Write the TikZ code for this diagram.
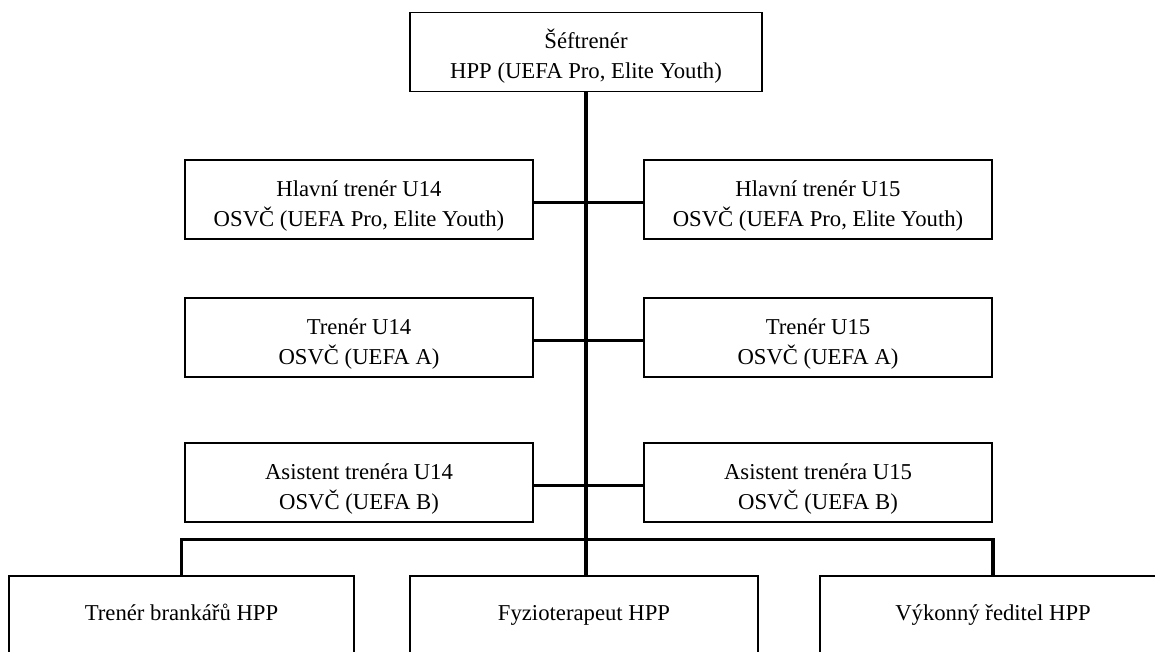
\documentclass[tikz,border=0pt]{standalone}
\usepackage{fontspec}
\setmainfont{Liberation Serif}

\begin{document}
\begin{tikzpicture}[x=1pt, y=-1pt, font=\fontsize{22.7}{30}\selectfont,
    unit/.style={draw, line width=1.2pt, minimum width=348pt, minimum height=79pt, align=center, inner sep=0pt,
        execute at begin node=\rule{0pt}{58pt}},
    staff/.style={unit, execute at begin node={}, text height=16pt, text depth=7pt},
    link/.style={line width=3.2pt}]
        \clip (0,0) rectangle (1155,652);
        \node[unit, minimum width=352pt] (chief) at (586,52) {Šéftrenér\\HPP (UEFA Pro, Elite Youth)};
        \node[unit] (head14) at (359,199.5) {Hlavní trenér U14\\OSVČ (UEFA Pro, Elite Youth)};
        \node[unit] (head15) at (818,199.5) {Hlavní trenér U15\\OSVČ (UEFA Pro, Elite Youth)};
        \node[unit] (coach14) at (359,337.5) {Trenér U14\\OSVČ (UEFA A)};
        \node[unit] (coach15) at (818,337.5) {Trenér U15\\OSVČ (UEFA A)};
        \node[unit] (asst14) at (359,482.5) {Asistent trenéra U14\\OSVČ (UEFA B)};
        \node[unit] (asst15) at (818,482.5) {Asistent trenéra U15\\OSVČ (UEFA B)};
        \node[staff, minimum width=345pt] (keeper) at (181.5,615.5) {Trenér brankářů HPP};
        \node[staff] (physio) at (584,615.5) {Fyzioterapeut HPP};
        \node[staff, minimum width=346pt] (director) at (993,615.5) {Výkonný ředitel HPP};
        % trunk, side branches and bottom bus
        \draw[link] (chief.south) -- (chief.south |- physio.north);
        \foreach \r in {head,coach,asst} \draw[link] ([yshift=-3pt]\r14.east) -- ([yshift=-3pt]\r15.west);
        \draw[link] (keeper.north) -- ++(0,-36) -| (director.north);
    \end{tikzpicture}
\end{document}
